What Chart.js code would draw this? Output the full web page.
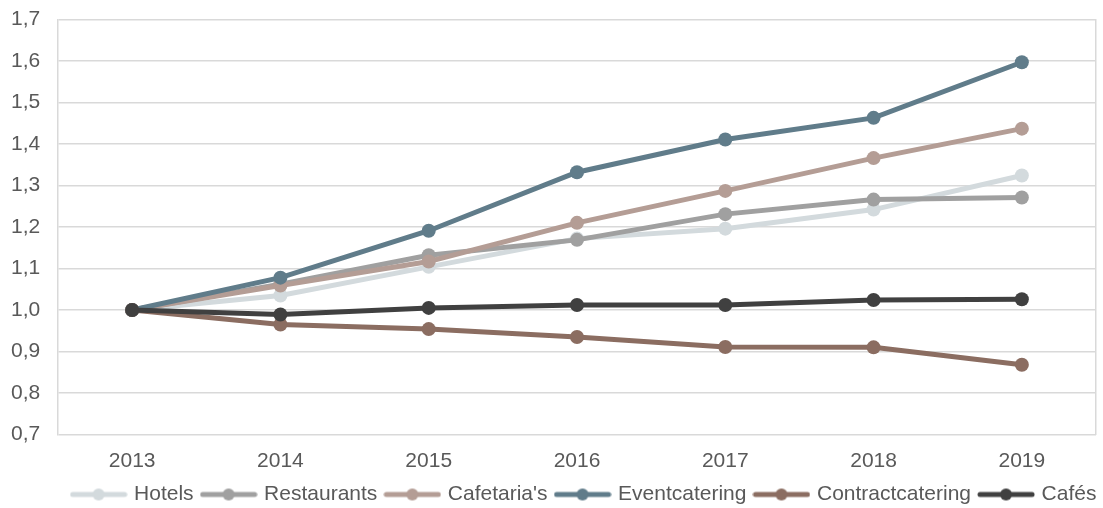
<!DOCTYPE html>
<html>
<head>
<meta charset="utf-8">
<script src="https://cdn.jsdelivr.net/npm/chart.js@4"></script>
<style>
  html, body { margin: 0; padding: 0; background: #fff; }
  #wrap { width: 1103px; height: 508px; }
</style>
</head>
<body>
<div id="wrap"><canvas id="chart"></canvas></div>
<script>
const years = ['2013', '2014', '2015', '2016', '2017', '2018', '2019']
const hotels = [1.0, 1.035, 1.104, 1.172, 1.196, 1.242, 1.324]
const restaurants = [1.0, 1.062, 1.132, 1.169, 1.231, 1.266, 1.271]
const cafetarias = [1.0, 1.059, 1.117, 1.210, 1.287, 1.366, 1.437]
const eventcatering = [1.0, 1.078, 1.191, 1.332, 1.411, 1.463, 1.597]
const contractcatering = [1.0, 0.965, 0.954, 0.935, 0.911, 0.910, 0.868]
const cafes = [1.0, 0.989, 1.005, 1.012, 1.012, 1.024, 1.026]

const names = ['Hotels', 'Restaurants', "Cafetaria's", 'Eventcatering', 'Contractcatering', 'Cafés']
const series = [hotels, restaurants, cafetarias, eventcatering, contractcatering, cafes]
const colors = ['#d3dadd', '#a0a0a0', '#b49d95', '#607c8a', '#8b6d61', '#404040']

const fontFamily = 'Liberation Sans, Arial, sans-serif'

// little line-with-dot swatch for the legend
function swatch(color){
    const c = document.createElement('canvas')
    c.width = 58
    c.height = 14
    const g = c.getContext('2d')
    g.strokeStyle = color
    g.lineWidth = 5
    g.lineCap = 'round'
    g.beginPath()
    g.moveTo(3, 7)
    g.lineTo(55, 7)
    g.stroke()
    g.fillStyle = color
    g.beginPath()
    g.arc(29, 7, 6, 0, Math.PI * 2)
    g.fill()
    return c
}

const datasets = series.map((data, i) => ({
    label: names[i],
    data: data,
    borderColor: colors[i],
    backgroundColor: colors[i],
    borderWidth: 5,
    pointRadius: 7,
    pointHoverRadius: 7,
    pointBorderWidth: 0,
    pointStyle: 'circle',
    legendSwatch: swatch(colors[i]),
    order: series.length - i,
    tension: 0
}))

// the legend in the original sits a bit right of centre
const legendShift = {
    id: 'legendShift',
    afterLayout(chart){
        const lg = chart.legend
        if (!lg) return
        lg.left += 30
        lg.right += 30
        if (lg.adjustHitBoxes) lg.adjustHitBoxes()
    }
}

const ctx = document.getElementById('chart')

new Chart(ctx, {
    type: 'line',
    data: { labels: years, datasets: datasets },
    plugins: [legendShift],
    options: {
        responsive: true,
        maintainAspectRatio: false,
        animation: false,
        layout: { padding: { top: 19.5, right: 4, left: 11, bottom: -7 } },
        plugins: {
            tooltip: { enabled: false },
            legend: {
                position: 'bottom',
                labels: {
                    usePointStyle: true,
                    pointStyleWidth: 50,
                    padding: 10,
                    color: '#595959',
                    font: { family: fontFamily, size: 21 },
                    sort: (a, b) => a.datasetIndex - b.datasetIndex,
                    generateLabels: function(chart){
                        return chart.data.datasets.map((ds, i) => ({
                            text: ds.label,
                            fillStyle: ds.borderColor,
                            strokeStyle: ds.borderColor,
                            lineWidth: 0,
                            pointStyle: ds.legendSwatch,
                            datasetIndex: i,
                            hidden: false,
                            fontColor: '#595959'
                        }))
                    }
                }
            }
        },
        scales: {
            x: {
                offset: true,
                grid: { display: false, drawTicks: false },
                border: { display: false },
                afterFit: function(axis){ axis.height = 39.5 },
                ticks: {
                    color: '#595959',
                    padding: 14,
                    font: { family: fontFamily, size: 21 }
                }
            },
            y: {
                min: 0.7,
                max: 1.7,
                grid: { color: '#d9d9d9', lineWidth: 1.5, drawTicks: false },
                border: { color: '#d9d9d9', width: 1.5 },
                afterFit: function(axis){ axis.width = 47 },
                ticks: {
                    stepSize: 0.1,
                    padding: 0,
                    crossAlign: 'far',
                    color: '#595959',
                    font: { family: fontFamily, size: 21 },
                    callback: function(value){
                        return value.toFixed(1).replace('.', ',')
                    }
                }
            },
            yRight: {
                position: 'right',
                min: 0.7,
                max: 1.7,
                grid: { display: false },
                ticks: { display: false },
                border: { color: '#d9d9d9', width: 1.5 },
                afterFit: function(axis){ axis.width = 0 }
            }
        }
    }
})
</script>
</body>
</html>
